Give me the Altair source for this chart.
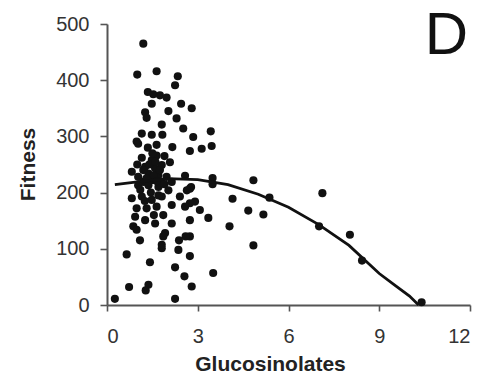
import altair as alt
import pandas as pd

# Scatter points (Glucosinolates, Fitness)
gluc = [4.84, 5.37, 4.67, 5.17, 4.84, 7.12, 7.01, 8.03, 8.43, 10.40,
        2.80, 3.43, 2.85, 3.13, 3.46, 2.74, 3.49, 3.49, 2.74, 4.15,
        3.07, 3.35, 4.05, 3.51, 2.91, 2.74, 2.74, 2.74, 2.74, 2.80,
        1.20, 1.00, 1.64, 2.34, 2.25, 1.35, 1.53, 1.75, 1.97, 1.48,
        2.45, 2.03, 1.26, 1.31, 2.30,
        1.81, 2.52, 1.48, 1.83, 0.98, 1.03, 1.64, 2.16, 1.15, 1.64,
        1.48, 2.08, 1.81, 1.26, 1.59, 0.82, 1.37, 1.03, 1.70, 1.97,
        2.58, 1.20, 1.48, 1.81, 2.14, 1.37, 2.78,
        1.03, 1.70, 2.03, 0.82, 1.15, 1.48, 1.81, 2.64, 2.41, 2.14,
        0.98, 1.31, 1.64, 2.58, 0.93, 1.26, 1.59, 1.86, 2.14, 0.87,
        0.98, 1.92, 1.86, 2.60, 2.38, 1.09, 1.81,
        0.65, 1.81, 2.36, 1.42, 2.25, 2.56, 0.73, 1.37, 1.28, 0.26, 2.25,
        1.20, 1.40, 1.55, 1.65, 1.30, 1.50, 1.10, 1.75, 1.45, 1.90,
        1.60, 1.25, 1.70, 1.55, 1.00, 1.35, 1.90, 1.15]
fitness = [222, 191, 168, 161, 106, 199, 140, 125, 79, 5,
           350, 309, 299, 278, 283, 274, 226, 215, 207, 189,
           169, 155, 140, 57, 184, 181, 151, 122, 87, 33,
           465, 410, 416, 407, 391, 379, 375, 373, 369, 358,
           358, 345, 343, 333, 332,
           321, 314, 303, 303, 291, 287, 285, 281, 262, 266,
           258, 254, 249, 246, 243, 237, 234, 228, 231, 228,
           230, 219, 222, 216, 219, 213, 210,
           213, 210, 204, 190, 193, 187, 193, 204, 193, 178,
           172, 172, 175, 175, 157, 151, 145, 160, 145, 140,
           134, 128, 122, 122, 115, 115, 107,
           90, 101, 98, 76, 67, 51, 32, 36, 26, 11, 11,
           240, 250, 230, 220, 225, 270, 205, 240, 200, 215,
           255, 185, 195, 160, 250, 280, 265, 305]

# Fitted curve
curve_x = [0.26, 1, 2, 3, 4, 5, 6, 7, 8, 9, 9.5, 10, 10.3]
curve_y = [214, 219, 225, 223, 214, 197, 174, 143, 106, 56, 36, 16, 0]

x_ticks = [0, 3, 6, 9, 12]
y_ticks = [0, 100, 200, 300, 400, 500]

# Panel letter, placed in data units
panel_label = ["D"]
panel_x = [11.22]
panel_y = [479]

pts = pd.DataFrame({"Glucosinolates": gluc, "Fitness": fitness})
crv = pd.DataFrame({"Glucosinolates": curve_x, "Fitness": curve_y})
lab = pd.DataFrame({"label": panel_label, "Glucosinolates": panel_x, "Fitness": panel_y})

FONT = "Liberation Sans"

xenc = alt.X("Glucosinolates:Q",
             scale=alt.Scale(domain=[0, 12], nice=False, zero=False),
             axis=alt.Axis(values=x_ticks, title="Glucosinolates",
                           titleX=163, titleY=65, titleBaseline="alphabetic",
                           titleAlign="center",
                           labelPadding=15, tickSize=6))
yenc = alt.Y("Fitness:Q",
             scale=alt.Scale(domain=[0, 500], nice=False),
             axis=alt.Axis(values=y_ticks, title="Fitness",
                           titleX=-73, titleY=140, titleBaseline="alphabetic",
                           titleAlign="center", titleAngle=270,
                           labelPadding=11, tickSize=7))

points = alt.Chart(pts).mark_circle(size=66, color="#111111", opacity=1).encode(
    x=xenc, y=yenc)
line = alt.Chart(crv).mark_line(color="#111111", strokeWidth=2.8).encode(
    x="Glucosinolates:Q", y="Fitness:Q")
letter = alt.Chart(lab).mark_text(fontSize=60, font=FONT, color="#111111",
                                  align="center", baseline="middle").encode(
    x="Glucosinolates:Q", y="Fitness:Q", text="label:N")

chart = alt.layer(points, line, letter).properties(
    width=363, height=281,
    background="white",
    autosize=alt.AutoSizeParams(type="none"),
    padding={"left": 99, "top": 16, "right": 13, "bottom": 66},
).configure_view(stroke=None).configure_axis(
    grid=False,
    domainColor="#555555", domainWidth=2,
    tickColor="#555555", tickWidth=1.6,
    labelFont=FONT, labelFontSize=20, labelColor="#333333",
    titleFont=FONT, titleFontSize=21, titleFontWeight="bold", titleColor="#222222",
)

chart.save("out.html", embed_options={"renderer": "svg", "actions": False})
